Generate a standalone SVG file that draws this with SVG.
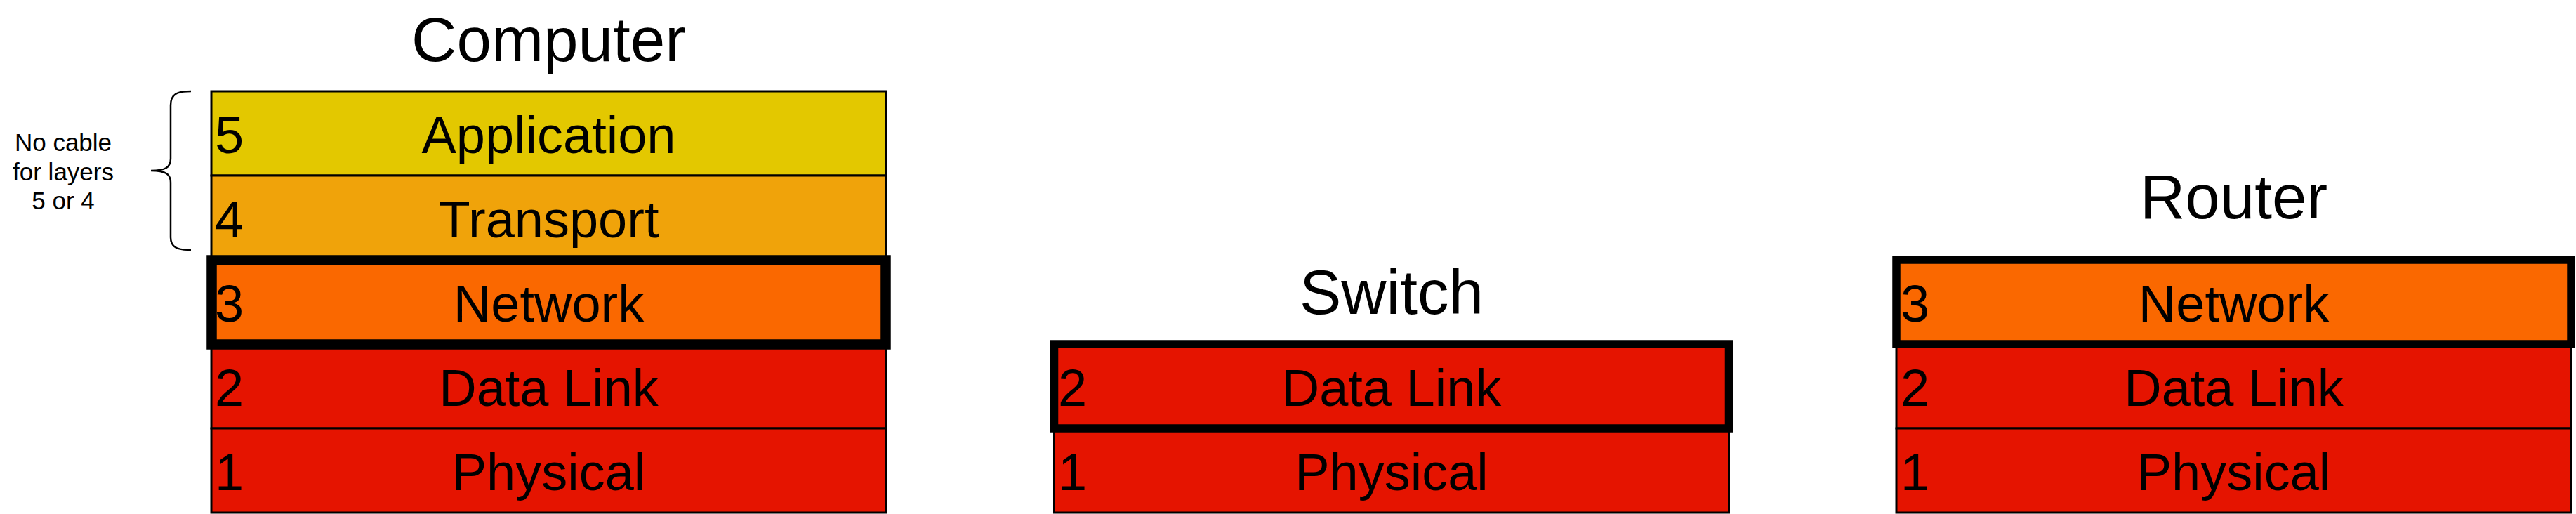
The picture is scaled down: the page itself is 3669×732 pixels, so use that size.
<svg xmlns="http://www.w3.org/2000/svg" width="3669" height="732" viewBox="0 0 3669 732">
<style>
.t{font-family:"Liberation Sans",Arial,sans-serif;fill:#000}
.title{font-size:89px;text-anchor:middle}
.lbl{font-size:74px;text-anchor:middle}
.num{font-size:74px;text-anchor:start}
.note{font-size:35px;text-anchor:middle}
.l{stroke:#000;stroke-width:3}
.y{fill:#e3c800}.a{fill:#f0a30a}.o{fill:#fa6800}.r{fill:#e51400}
</style>
<rect width="3669" height="732" fill="#fff"/>
<g id="computer">
<text class="t title" x="781.5" y="87">Computer</text>
<rect class="l y" x="301" y="130" width="961" height="120"/>
<text class="t num" x="306" y="218">5</text>
<text class="t lbl" x="781.5" y="218">Application</text>
<rect class="l a" x="301" y="250" width="961" height="120"/>
<text class="t num" x="306" y="338">4</text>
<text class="t lbl" x="781.5" y="338">Transport</text>
<rect class="l r" x="301" y="490" width="961" height="120"/>
<text class="t num" x="306" y="578">2</text>
<text class="t lbl" x="781.5" y="578">Data Link</text>
<rect class="l r" x="301" y="610" width="961" height="120"/>
<text class="t num" x="306" y="698">1</text>
<text class="t lbl" x="781.5" y="698">Physical</text>
<rect class="o" x="301.5" y="370.5" width="960" height="120" stroke="#000" stroke-width="14.5"/>
<text class="t num" x="306" y="458">3</text>
<text class="t lbl" x="781.5" y="458">Network</text>
</g>
<g id="note">
<path d="M272,130 C252,130 243,134 243,150 L243,226 C243,238 236,243 215,243 C236,243 243,248 243,260 L243,338 C243,352 252,356 272,356" fill="none" stroke="#000" stroke-width="2.5"/>
<text class="t note" x="90" y="215">No cable</text>
<text class="t note" x="90" y="257">for layers</text>
<text class="t note" x="90" y="298">5 or 4</text>
</g>
<g id="switch">
<text class="t title" x="1982" y="447">Switch</text>
<rect class="l r" x="1501.5" y="610" width="961" height="120"/>
<text class="t num" x="1507" y="698">1</text>
<text class="t lbl" x="1982" y="698">Physical</text>
<rect class="r" x="1501.5" y="490" width="961" height="120" stroke="#000" stroke-width="11.5"/>
<text class="t num" x="1507" y="578">2</text>
<text class="t lbl" x="1982" y="578">Data Link</text>
</g>
<g id="router">
<text class="t title" x="3181.5" y="311">Router</text>
<rect class="l r" x="2701" y="490" width="961" height="120"/>
<text class="t num" x="2707" y="578">2</text>
<text class="t lbl" x="3181.5" y="578">Data Link</text>
<rect class="l r" x="2701" y="610" width="961" height="120"/>
<text class="t num" x="2707" y="698">1</text>
<text class="t lbl" x="3181.5" y="698">Physical</text>
<rect class="o" x="2701" y="370" width="961" height="120" stroke="#000" stroke-width="11.5"/>
<text class="t num" x="2707" y="458">3</text>
<text class="t lbl" x="3181.5" y="458">Network</text>
</g>
<g id="connectors"></g>
</svg>
